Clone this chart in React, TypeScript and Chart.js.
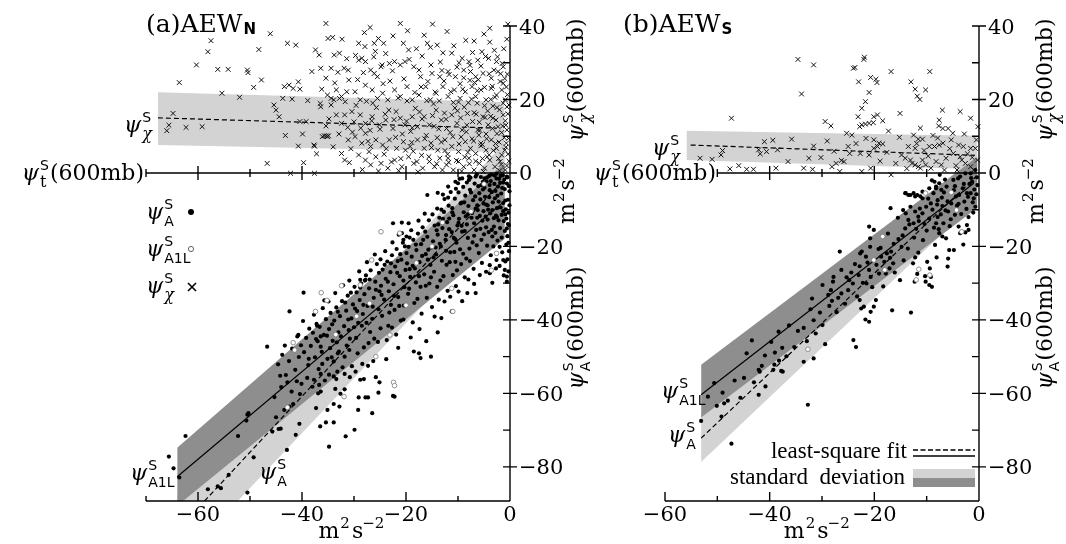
import React, { useEffect, useRef } from 'react';
import { Chart, registerables } from 'chart.js';
Chart.register(...registerables);

type P = [number, number];

// ---------------- Panel (a) AEW_N ----------------
const aChi: P[] = [
  [-63.6,24.6],[-58.1,33.0],[-56.2,28.2],[-54.2,28.2],[-50.5,28.0],[-50.4,27.3],[-49.3,23.3],[-55.4,21.7],[-52.0,20.6],[-64.8,16.2],[-65.6,13.0],[-62.3,12.4],
  [-42.8,35.3],[-41.2,34.8],[-43.7,20.3],[-41.9,20.1],[-45.4,18.5],[-45.0,17.1],[-44.4,15.3],[-43.4,23.5],[-42.5,23.9],[-41.7,23.0],[-40.4,22.8],[-40.7,24.8],
  [-40.4,14.0],[-39.2,14.0],[-40.7,7.3],[-37.6,7.3],[-37.2,5.2],[-39.7,2.8],[-46.7,2.6],[-42.2,-0.1],[-37.6,-0.1],
  [-35.4,40.7],[-31.4,41.4],[-30.1,41.9],[-26.6,43.9],[-21.1,40.7],[-17.3,43.6],[-15.3,42.5],[-14.9,40.5],[-3.9,39.4],[-0.6,43.0],[-0.4,40.5],[-0.6,36.4],
  [-37.4,33.5],[-36.7,32.1],[-35.0,36.6],[-34.1,36.9],[-33.8,32.1],[-32.8,32.6],[-29.1,35.3],[-27.9,34.4],[-26.1,35.3],[-25.3,36.6],[-24.3,35.3],[-22.5,37.3],
  [-20.5,35.3],[-19.5,33.5],[-16.5,37.5],[-15.9,35.3],[-14.0,34.8],[-11.2,32.6],[-9.2,31.2],[-7.9,30.3],[-5.4,33.0],[-4.7,31.7],[-4.1,31.2],[-2.6,30.3],
  [-1.3,28.9],[-6.2,30.7],[-36.4,28.5],[-35.4,25.8],[-34.4,28.5],[-31.9,28.5],[-31.1,28.0],[-29.1,30.7],[-28.5,31.2],[-27.8,30.3],[-26.8,28.0],[-26.1,27.1],
  [-25.5,26.2],[-24.8,28.9],[-23.2,29.8],[-22.2,30.3],[-21.1,29.4],[-20.2,30.3],[-18.5,28.9],[-17.5,28.0],[-17.2,26.2],[-15.2,29.4],[-13.5,26.2],[-11.9,27.6],
  [-10.5,26.2],[-8.9,28.0],[-7.6,27.6],[-6.6,26.2],[-5.2,27.1],[-3.6,25.8],[-2.3,27.6],[-1.3,24.4],
  [-33.4,22.6],[-32.4,20.8],[-31.4,22.1],[-35.1,21.2],[-34.4,20.3],[-29.8,22.1],[-28.8,19.9],[-27.8,23.9],[-26.5,22.6],[-25.5,20.3],[-24.5,21.7],[-23.5,19.9],
  [-22.2,22.6],[-21.1,20.8],[-19.8,23.5],[-18.8,19.9],[-17.5,21.2],[-16.2,23.5],[-15.3,19.9],[-14.2,21.7],[-12.9,23.5],[-11.9,20.8],[-10.7,22.6],[-9.6,20.3],
  [-8.6,22.1],[-7.3,23.5],[-6.6,20.8],[-5.6,22.6],[-4.6,19.9],[-3.6,23.0],[-2.6,21.2],[-1.6,22.6],[-0.9,19.9],[-0.6,18.0],
  [-31.8,15.8],[-30.4,16.7],[-28.8,15.8],[-27.8,13.5],[-26.5,15.3],[-25.1,13.1],[-23.9,14.4],[-22.5,12.1],[-21.1,14.9],[-20.2,13.1],[-18.8,15.3],[-17.8,12.6],
  [-16.5,15.3],[-15.5,13.1],[-14.2,17.1],[-13.2,14.4],[-12.2,12.1],[-11.2,15.8],[-10.2,13.5],[-9.2,11.7],[-8.2,16.2],[-7.2,14.0],[-6.2,11.7],[-5.2,15.3],
  [-4.2,13.1],[-3.3,14.9],[-2.3,12.6],[-1.3,15.8],[-0.6,11.7],
  [-36.1,9.9],[-35.1,9.9],[-31.1,9.0],[-29.8,9.9],[-28.5,8.1],[-26.8,7.2],[-25.8,9.0],[-24.5,7.6],[-23.2,9.0],[-21.8,6.7],[-20.5,8.5],[-19.2,7.2],
  [-17.8,9.0],[-16.5,6.7],[-15.2,8.1],[-13.9,6.2],[-12.5,9.0],[-11.2,7.2],[-9.9,5.8],[-8.6,8.5],[-7.6,6.7],[-6.6,5.3],[-5.6,8.1],[-4.6,6.2],
  [-3.6,9.0],[-2.6,6.7],[-1.6,4.9],[-0.7,8.1],
  [-32.4,5.3],[-31.8,3.5],[-29.1,4.9],[-27.8,3.5],[-26.8,2.2],[-25.8,4.4],[-24.8,2.6],[-23.5,1.3],[-22.2,3.5],[-20.8,1.7],[-19.5,4.4],[-18.5,2.6],
  [-16.8,1.3],[-15.5,3.1],[-14.5,1.7],[-13.5,4.0],[-12.2,2.2],[-10.9,0.8],[-9.9,3.1],[-8.9,1.7],[-7.9,4.0],[-6.9,0.8],[-5.9,2.6],[-4.9,1.3],
  [-3.9,3.5],[-2.9,1.7],[-1.9,3.1],[-0.9,0.8],
  [-37.7,7.6],[-36.5,18.9],[-36.4,18.0],[-34.4,18.5],[-33.9,19.9],[-32.8,20.3],[-33.4,15.8],[-32.4,13.5],[-31.2,12.4],[-35.4,12.8],[-35.7,10.1],[-35.3,10.1],[-34.9,10.1],
  [-19.1,11.3],[-18.2,17.6],[-17.0,4.8],[-16.1,10.2],[-15.8,24.9],[-14.7,18.8],[-14.0,9.6],[-13.1,27.9],[-12.6,16.3],[-12.0,5.1],[-11.5,11.0],[-10.9,19.2],
  [-10.3,3.4],[-9.6,24.3],[-9.4,9.8],[-8.8,17.9],[-8.3,13.0],[-7.8,2.5],[-7.4,20.1],[-7.0,8.7],[-6.5,16.0],[-6.1,25.4],[-5.8,11.6],[-5.3,3.9],
  [-4.9,18.3],[-4.5,9.3],[-4.0,27.0],[-3.7,15.4],[-3.2,6.1],[-2.9,20.6],[-2.5,10.7],[-2.0,17.2],[-1.7,2.3],[-1.4,12.8],[-1.0,25.7],[-0.8,7.0],
  [-0.4,16.1],[-0.2,3.2],[-3.0,33.4],[-6.9,35.9],[-9.8,30.0],[-12.9,32.7],[-2.1,8.4],[-0.9,14.2],[-4.4,4.4],[-5.6,7.4],[-8.1,5.6],[-11.8,2.9],
  [-13.7,12.0],[-15.1,6.9],[-16.9,14.7],[-18.6,5.9],[-19.8,19.6],[-7.7,29.3],[-3.4,23.6],[-1.5,29.8],[-0.5,21.3],[-6.3,19.0],[-10.1,16.9],[-14.4,22.0],
  [-21.9,16.7],[-23.1,25.0],[-24.2,5.1],[-25.7,17.8],[-26.9,11.6],[-27.6,19.5],[-28.7,12.2],[-29.3,25.4],[-30.6,6.6],[-31.7,19.4],[-32.9,10.6],[-33.7,24.5],
  [-34.8,14.7],[-20.7,10.6],[-22.8,3.0],[-24.0,16.0],[-26.2,31.6],[-27.3,8.6],[-28.0,38.2],[-30.0,13.9],
  [-29.6,18.4],[-28.2,27.3],[-27.1,5.8],[-26.4,19.0],[-25.9,33.1],[-25.0,11.9],[-24.4,24.3],[-23.8,6.6],[-23.3,17.1],[-22.6,27.8],[-22.0,9.7],[-21.5,20.4],
  [-21.0,3.9],[-20.4,25.6],[-19.9,14.1],[-19.4,30.9],[-18.9,8.3],[-18.3,21.9],[-17.9,3.1],[-17.4,16.6],[-16.9,31.8],[-16.4,9.3],[-16.0,19.7],[-15.6,4.4],
  [-15.0,27.1],[-14.6,12.7],[-14.1,2.5],[-13.6,19.6],[-13.2,8.4],[-12.7,25.0],[-12.3,14.6],[-11.9,4.0],[-11.4,22.1],[-11.0,9.9],[-10.6,17.7],[-10.2,28.8],
  [-9.8,7.9],[-9.5,15.0],[-9.1,22.8],[-8.7,4.3],[-8.4,11.2],[-8.0,19.1],[-7.7,25.2],[-7.3,9.3],[-6.9,16.4],[-6.6,3.2],[-6.3,22.4],[-5.9,13.8],
  [-5.6,29.1],[-5.3,7.7],[-4.9,23.3],[-4.6,10.6],[-4.3,16.9],[-4.0,4.9],[-3.7,20.0],[-3.4,12.1],[-3.1,28.0],[-2.8,8.0],[-2.5,17.8],[-2.2,3.9],
  [-1.9,24.9],[-1.6,11.0],[-1.3,19.0],[-1.0,6.2],[-0.8,13.0],[-0.5,26.9],[-0.3,9.4],[-0.2,18.5],[-1.2,33.8],[-2.4,31.6],[-3.9,35.6],[-5.0,37.8],
  [-7.2,32.8],[-8.5,36.1],[-10.8,34.6],[-12.1,38.5],[-13.4,30.2],[-18.0,33.8],[-19.7,38.7],[-23.9,32.5],[-26.9,39.6],[-29.7,32.0],[-31.0,25.3],[-32.3,36.4],
  [-33.1,27.4],[-34.0,7.1],[-30.9,2.8],[-28.4,0.9],[-25.3,0.5],[-21.4,0.6],[-17.7,0.3],[-13.0,0.8],[-9.3,0.5],[-5.1,0.4],[-2.0,0.6],[-0.6,2.0],
  [-0.4,5.1],[-1.1,9.6],[-2.7,14.4],[-0.7,23.4],[-1.8,27.0],[-3.3,18.2],[-4.8,15.1],[-6.0,10.3],[-6.8,24.6],[-8.9,25.9],[-9.9,19.3],[-11.7,26.8],
  [-12.5,6.1],[-14.9,15.6],[-15.3,34.2],[-17.1,23.4],[-18.8,12.3],[-20.1,6.2],[-22.3,14.5],[-24.6,29.4],[-26.6,14.2],[-27.8,10.8],[-30.3,11.1],[-31.4,31.1],
  [-36.2,22.8],[-38.1,27.6],[-38.9,19.7],[-39.9,10.6],[-43.2,10.2],[-47.8,25.3],[-60.3,29.4],[-59.2,12.6],[-66.0,11.5],[-57.5,36.0],[-48.3,33.6],[-46.1,37.9]
];

const aA: P[] = [
  [-65.6,-77.2],[-64.7,-80.4],[-63.6,-82.9],[-62.4,-71.6],[-58.1,-86.1],[-55.6,-85.8],[-56.2,-85.3],[-54.1,-82.2],[-52.3,-71.6],[-50.7,-67.4],[-50.5,-65.8],[-50.3,-65.4],
  [-49.3,-77.4],[-50.5,-87.0],[-45.0,-66.5],[-45.7,-70.4],[-44.5,-69.7],[-44.1,-69.6],[-42.9,-75.4],[-44.2,-55.2],[-42.8,-57.0],[-43.4,-64.5],[-42.4,-63.6],[-41.7,-62.9],
  [-41.2,-71.3],[-40.5,-68.3],[-40.1,-57.4],[-37.7,-56.3],[-37.3,-64.0],[-36.9,-60.0],[-36.7,-57.7],[-36.4,-59.5],[-36.4,-54.7],[-36.5,-69.0],[-35.4,-67.9],[-33.9,-67.9],
  [-35.1,-64.5],[-33.9,-62.9],[-32.8,-63.6],[-34.8,-74.5],[-32.6,-60.1],[-31.8,-58.9],[-31.6,-71.7],[-30.8,-55.6],[-28.8,-56.3],[-28.1,-56.1],[-25.8,-55.6],[-25.1,-57.0],
  [-29.2,-64.5],[-29.1,-61.1],[-27.8,-61.1],[-27.3,-61.1],[-29.9,-69.9],[-26.5,-65.4],[-25.3,-59.8],[-22.5,-60.7],[-22.2,-60.9],[-33.9,-55.4],[-33.4,-56.1],[-31.8,-54.7],
  [-46.7,-47.3],[-42.4,-37.7],[-39.7,-32.6],[-37.2,-41.1],[-37.1,-41.6],[-40.7,-44.1],[-40.9,-44.5],[-36.4,-44.5],[-35.2,-44.3],[-36.4,-47.3],[-33.1,-49.1],[-31.8,-50.0],
  [-33.9,-51.3],[-35.7,-34.7],[-28.8,-29.1],[-27.8,-29.1],[-22.5,-13.7],[-20.8,-13.5],[-19.5,-13.7],[-20.8,-16.4],[-20.5,-18.2],[-20.2,-20.0],[-17.2,-50.4],[-15.2,-50.0],
  [-18.5,-48.6],[-17.5,-49.1],[-13.2,-39.5],[-14.5,-39.1],[-11.2,-37.7],[-9.9,-32.3],[-8.2,-32.7],[-6.6,-32.7],[-3.9,-27.3],[-2.6,-23.7],[-1.3,-23.7],[-1.0,-26.4],
  [-0.6,-28.2],[-0.6,-29.6],
  [-44.6,-52.1],[-43.8,-49.5],[-43.1,-55.0],[-42.5,-51.2],[-41.9,-47.8],[-41.3,-53.6],[-40.6,-50.1],[-40.2,-46.9],[-44.0,-58.3],[-42.0,-59.5],[-41.0,-56.7],[-40.4,-60.2],
  [-45.3,-61.0],[-43.3,-47.0],
  [-39.6,-48.8],[-39.2,-44.9],[-38.8,-52.3],[-38.3,-47.1],[-37.9,-43.5],[-37.5,-50.2],[-37.0,-45.8],[-36.6,-41.9],[-36.2,-48.7],[-35.8,-44.1],[-35.4,-39.8],[-35.1,-50.6],
  [-39.0,-55.8],[-38.0,-58.2],[-36.8,-53.4],[-35.6,-56.5],[-39.8,-40.3],[-37.7,-38.6],[-36.0,-36.8],[-38.6,-42.4],
  [-34.8,-42.5],[-34.5,-38.1],[-34.1,-45.7],[-33.8,-40.2],[-33.4,-36.6],[-33.0,-43.4],[-32.7,-39.0],[-32.3,-34.9],[-31.9,-41.7],[-31.5,-37.5],[-31.2,-33.4],[-30.8,-45.1],
  [-30.5,-39.6],[-30.2,-35.8],[-34.3,-50.2],[-32.9,-48.6],[-31.4,-47.0],[-30.4,-52.6],[-33.6,-32.7],[-32.1,-30.6],[-30.9,-29.3],[-34.9,-35.0],[-33.2,-54.1],[-31.0,-42.8],
  [-29.8,-36.9],[-29.5,-32.5],[-29.2,-40.8],[-28.9,-34.6],[-28.6,-30.1],[-28.3,-38.4],[-28.0,-33.0],[-27.7,-27.9],[-27.4,-36.2],[-27.1,-31.4],[-26.8,-26.5],[-26.5,-39.7],
  [-26.2,-34.0],[-25.9,-29.6],[-25.6,-24.8],[-25.3,-37.1],[-29.6,-44.9],[-28.1,-47.5],[-26.9,-43.3],[-25.4,-46.0],[-29.0,-26.8],[-27.5,-24.3],[-26.0,-22.2],[-28.4,-52.0],
  [-26.3,-51.2],[-25.1,-32.2],[-27.9,-29.3],[-29.9,-31.0],
  [-24.8,-30.7],[-24.5,-26.3],[-24.2,-34.5],[-23.9,-28.8],[-23.6,-24.1],[-23.3,-32.2],[-23.0,-27.0],[-22.7,-22.4],[-22.4,-30.3],[-22.1,-25.5],[-21.8,-20.7],[-21.5,-33.8],
  [-21.2,-28.1],[-20.9,-23.6],[-20.6,-19.0],[-20.3,-31.1],[-24.6,-38.9],[-23.4,-41.6],[-22.2,-37.3],[-21.0,-40.2],[-24.0,-21.3],[-22.6,-18.9],[-21.4,-16.8],[-20.1,-26.4],
  [-23.7,-45.5],[-21.9,-44.0],[-20.4,-36.1],[-24.9,-23.5],[-22.9,-35.9],[-21.6,-24.0],
  [-19.8,-24.6],[-19.5,-20.1],[-19.2,-28.3],[-18.9,-22.8],[-18.6,-18.2],[-18.3,-26.0],[-18.0,-21.0],[-17.7,-16.5],[-17.4,-24.3],[-17.1,-19.4],[-16.8,-14.8],[-16.5,-27.6],
  [-16.2,-22.1],[-15.9,-17.4],[-15.6,-12.9],[-15.3,-25.0],[-19.6,-32.9],[-18.4,-35.4],[-17.2,-31.0],[-16.0,-34.0],[-19.0,-15.6],[-17.6,-13.0],[-16.4,-11.1],[-15.1,-20.3],
  [-18.7,-40.7],[-17.0,-38.3],[-15.5,-30.1],[-19.9,-17.3],[-18.1,-29.8],[-16.7,-18.2],[-15.8,-23.6],[-19.3,-26.2],
  [-14.8,-18.6],[-14.5,-14.3],[-14.2,-22.2],[-13.9,-16.8],[-13.6,-12.2],[-13.3,-20.0],[-13.0,-15.0],[-12.7,-10.6],[-12.4,-18.2],[-12.1,-13.4],[-11.8,-8.9],[-11.5,-21.6],
  [-11.2,-16.1],[-10.9,-11.5],[-10.6,-7.0],[-10.3,-19.0],[-14.6,-26.9],[-13.4,-29.3],[-12.2,-25.0],[-11.0,-27.8],[-14.0,-9.7],[-12.6,-7.1],[-11.4,-5.2],[-10.1,-14.3],
  [-13.7,-34.5],[-12.0,-32.1],[-10.5,-24.2],[-14.9,-11.3],[-13.1,-23.9],[-11.7,-12.4],[-10.8,-17.7],[-14.3,-20.3],[-12.9,-5.9],[-11.1,-9.6],[-10.4,-4.3],[-13.8,-14.0],
  [-12.3,-16.9],[-10.7,-21.5],
  [-9.8,-12.5],[-9.5,-8.3],[-9.2,-16.0],[-8.9,-10.7],[-8.6,-6.2],[-8.3,-14.0],[-8.0,-9.0],[-7.7,-4.6],[-7.4,-12.2],[-7.1,-7.4],[-6.8,-2.9],[-6.5,-15.5],
  [-6.2,-10.1],[-5.9,-5.5],[-5.6,-1.1],[-5.3,-13.0],[-9.6,-20.8],[-8.4,-23.3],[-7.2,-18.9],[-6.0,-21.8],[-9.0,-3.8],[-7.6,-1.3],[-6.4,-0.4],[-5.1,-8.3],
  [-8.7,-28.4],[-7.0,-26.1],[-5.5,-18.2],[-9.9,-5.3],[-8.1,-17.7],[-6.7,-6.4],[-5.8,-11.7],[-9.3,-14.4],[-7.9,-0.9],[-6.1,-3.6],[-5.4,-24.5],[-8.8,-8.0],
  [-7.3,-10.9],[-5.7,-15.2],[-9.7,-1.6],[-8.5,-11.8],[-6.9,-13.7],[-5.2,-4.5],[-9.4,-24.8],[-7.8,-20.6],[-6.3,-8.8],[-5.0,-16.7],
  [-4.8,-6.5],[-4.5,-2.3],[-4.2,-10.0],[-3.9,-4.7],[-3.6,-0.4],[-3.3,-8.0],[-3.0,-3.0],[-2.7,-11.6],[-2.4,-6.2],[-2.1,-1.6],[-1.8,-9.4],[-1.5,-4.1],
  [-1.2,-13.1],[-0.9,-7.5],[-0.6,-2.9],[-0.3,-10.8],[-4.6,-14.8],[-3.4,-17.3],[-2.2,-12.9],[-1.0,-15.8],[-4.0,-0.8],[-2.6,-0.2],[-1.4,-0.6],[-0.1,-5.0],
  [-3.7,-22.4],[-2.0,-20.1],[-0.5,-17.2],[-4.9,-1.5],[-3.1,-12.3],[-1.7,-5.6],[-0.8,-9.9],[-4.3,-8.8],[-2.9,-6.9],[-1.1,-1.8],[-0.4,-13.9],[-3.8,-11.0],
  [-2.3,-3.7],[-0.7,-19.5],[-4.4,-19.8],[-1.9,-15.0],[-0.2,-21.3],[-2.8,-16.3],[-3.5,-5.2],[-1.3,-8.2],[-0.9,-24.1],[-0.3,-26.8],[-0.5,-1.2],[-2.5,-9.6],
  [-4.7,-11.9],[-1.6,-11.4],
  [-15.9,-6.0],[-13.9,-5.4],[-11.9,-3.7],[-10.5,-2.4],[-9.2,-1.5],[-7.9,-1.9],[-6.6,-1.0],[-5.2,-2.4],[-3.9,-3.3],[-2.6,-1.5],[-1.3,-2.6],[-0.6,-1.0],
  [-34.2,-41.2],[-33.1,-37.8],[-32.5,-44.5],[-31.7,-35.3],[-31.1,-39.9],[-30.6,-32.6],[-30.0,-42.0],[-29.4,-37.6],[-28.8,-31.2],[-28.2,-35.9],[-27.6,-40.8],[-27.0,-29.0],
  [-26.4,-36.4],[-25.8,-31.8],[-25.2,-27.2],[-34.6,-47.7],[-33.3,-46.1],[-29.3,-49.1],[-27.2,-46.3],
  [-24.7,-33.2],[-24.1,-25.0],[-23.5,-29.6],[-22.9,-24.6],[-22.3,-33.5],[-21.7,-27.2],[-21.1,-22.1],[-20.5,-29.3],[-19.9,-21.8],[-19.3,-17.6],[-18.7,-25.3],[-18.1,-19.5],
  [-17.5,-28.1],[-16.9,-22.6],[-16.3,-16.0],[-15.7,-20.9],[-15.2,-28.4],[-23.2,-38.0],[-21.3,-36.2],[-19.4,-31.5],[-17.8,-34.3],[-16.2,-30.7],
  [-14.7,-23.0],[-14.1,-15.6],[-13.5,-19.3],[-12.9,-12.5],[-12.3,-21.2],[-11.7,-15.3],[-11.1,-10.7],[-10.5,-18.1],[-9.9,-13.6],[-9.3,-8.1],[-8.7,-15.8],[-8.1,-11.3],
  [-7.5,-5.3],[-6.9,-17.1],[-6.3,-12.2],[-5.7,-7.2],[-5.1,-10.4],[-14.0,-31.0],[-12.8,-28.1],[-11.6,-24.3],[-10.2,-26.5],[-9.0,-22.0],[-7.7,-24.0],[-6.4,-19.7],
  [-13.2,-10.0],[-11.9,-6.7],[-10.0,-2.8],[-8.3,-2.6],[-6.6,-9.7],[-5.5,-3.3],
  [-4.9,-4.0],[-4.6,-8.6],[-4.3,-12.7],[-4.0,-6.6],[-3.7,-2.2],[-3.4,-10.1],[-3.1,-14.6],[-2.8,-4.9],[-2.5,-12.0],[-2.2,-7.8],[-1.9,-2.7],[-1.6,-17.6],
  [-1.3,-10.4],[-1.0,-4.4],[-0.7,-12.4],[-0.4,-7.3],[-0.2,-3.6],[-4.1,-16.1],[-3.2,-20.0],[-2.4,-18.4],[-1.5,-21.6],[-0.6,-15.1],[-3.9,-25.1],[-2.7,-26.0],
  [-1.8,-0.8],[-0.9,-11.3],[-0.3,-19.0],[-4.4,-1.2],[-3.0,-0.7],[-0.1,-8.8],[-0.5,-23.5],[-1.2,-27.9],[-0.2,-14.2],[-2.0,-25.3],[-3.5,-15.5],
  [-38.7,-50.6],[-37.3,-45.2],[-36.1,-52.0],[-34.8,-54.9],[-33.6,-58.8],[-32.2,-52.9],[-30.9,-48.2],[-29.7,-54.1],[-28.5,-41.6],[-27.3,-52.5],[-26.1,-45.1],[-24.9,-42.3],
  [-23.8,-50.7],[-22.7,-42.1],[-21.5,-47.6],[-20.5,-39.9],[-19.1,-44.8],[-17.4,-42.5],[-16.1,-45.8],[-15.0,-36.5],[-13.9,-43.4],[-12.6,-35.0],[-11.5,-33.7],[-10.4,-30.8],
  [-9.2,-34.9],[-8.0,-29.0],[-6.9,-30.2],[-5.8,-27.8],[-4.6,-26.9],[-3.4,-29.9]
];

const aA1L: P[] = [
  [-22.4,-57.0],[-22.2,-57.9],[-31.9,-60.9],[-42.8,-63.8],[-24.8,-16.0],[-21.2,-16.4],[-26.6,-23.7],[-32.4,-30.7],[-36.3,-32.6],[-35.2,-34.7],
  [-37.4,-37.7],[-41.7,-46.2],[-41.4,-48.2],[-28.8,-30.5],[-11.2,-31.4],[-11.0,-37.7],[-3.6,-26.5],[-2.6,-21.9],[-25.8,-50.0],[-23.1,-44.1],
  [-18.0,-24.5],[-15.0,-20.0],[-7.5,-10.5],[-5.0,-3.0],[-29.5,-39.0],[-33.5,-44.0],[-20.0,-36.0],[-27.0,-35.5],[-13.0,-13.5]
];

const aChiFit: P[] = [[-67.7, 15.0], [-2.6, 12.2]];
const aChiUpper: P[] = [[-67.7, 22.0], [-1.1, 19.3]];
const aChiLower: P[] = [[-67.7, 7.6], [-1.1, 5.7]];
const aA1LFit: P[] = [[-64, -82.7], [-1, -7.6]];
const aA1LUpper: P[] = [[-64, -74.8], [-1, 2.7]];
const aA1LLower: P[] = [[-64, -90.6], [-1, -17.9]];
const aAFit: P[] = [[-64, -97.3], [-1, -1.5]];
const aAUpper: P[] = [[-64, -87.5], [-1, 8.3]];
const aALower: P[] = [[-64, -106.7], [-1, -12.5]];

// ---------------- Panel (b) AEW_S ----------------
const bChi: P[] = [
  [-47.3,14.9],[-33.9,21.5],[-34.6,30.9],[-31.6,29.4],[-24.0,28.5],[-23.7,28.7],[-22.0,30.9],[-21.9,31.5],[-23.0,24.8],[-20.7,26.0],[-19.5,24.6],[-19.7,25.5],
  [-21.0,21.9],[-21.7,19.4],[-22.4,17.6],[-16.8,27.6],[-13.0,24.8],[-12.2,22.8],[-11.8,20.9],[-11.3,20.0],[-10.2,22.6],[-9.4,27.6],[-15.1,16.2],[-7.0,17.1],
  [-3.6,16.7],[-1.6,14.9],[-0.2,12.6],[-29.4,14.0],[-28.3,12.8],[-25.3,10.8],[-24.3,10.3],[-22.8,12.6],[-22.4,13.1],[-21.7,13.3],[-21.0,13.5],[-20.2,13.7],
  [-18.4,14.2],[-7.6,14.4],[-7.7,12.8],[-6.9,12.1],[-5.9,12.1],[-5.3,9.0],[-3.9,7.6],[-3.0,7.2],[-1.6,6.7],[-12.5,10.3],[-11.6,9.2],[-10.8,9.2],
  [-41.0,8.5],[-39.4,8.9],[-35.8,9.2],[-31.6,7.3],[-42.1,6.3],[-41.8,5.2],[-40.6,5.8],[-38.5,6.3],[-53.3,4.0],[-51.0,3.7],[-49.3,4.9],[-49.0,6.1],
  [-44.4,1.0],[-43.1,1.0],[-38.8,1.3],[-33.5,1.3],[-31.8,1.0],[-28.1,1.7],[-27.3,2.6],[-26.3,3.4],[-25.8,3.1],[-26.6,0.4],[-22.4,0.4],[-20.7,1.3],
  [-16.8,-0.5],[-24.7,5.3],[-22.7,5.3],[-21.0,4.9],[-20.1,6.7],[-19.4,7.2],[-20.1,9.0],[-19.1,8.1],[-18.4,7.9],[-14.8,4.9],[-14.1,4.0],[-13.1,3.5],
  [-12.8,2.6],[-12.2,2.2],[-11.6,1.7],[-11.2,1.3],[-13.5,7.2],[-12.2,6.7],[-10.5,6.1],[-9.5,7.2],[-8.5,7.2],[-7.6,7.6],[-6.9,8.1],[-4.9,5.3],
  [-3.6,4.4],[-3.3,3.5],[-2.6,2.6],[-1.6,1.7],[-1.0,0.8],[-0.3,3.5],[-0.7,6.7],[-8.2,3.1],[-7.2,2.2],[-6.6,0.8],[-9.2,1.3],[-10.2,2.2],
  [-10.8,3.5],[-20.1,15.3],[-19.4,15.8],[-11.2,12.2],[-2.2,5.2],[-4.4,2.0],[-5.6,6.6],[-8.8,10.2],[-15.9,2.6],[-17.6,5.6],[-23.5,8.0],[-30.2,4.2],
  [-0.5,9.0],[-1.3,4.2],[-2.8,10.6],[-4.2,0.8],[-5.0,10.8],[-6.3,4.0],[-7.9,9.5],[-9.7,4.6],[-11.9,8.0],[-13.8,1.2],[-15.2,9.7],[-17.3,11.4],
  [-18.9,3.2],[-21.6,9.4],[-23.1,15.3],[-25.0,7.2],[-27.7,5.9],[-29.0,8.7],[-32.5,4.0],[-36.5,3.1],[-45.9,2.0],[-47.6,1.1]
];

const bA: P[] = [
  [-53.1,-67.5],[-49.0,-59.8],[-48.7,-62.7],[-49.2,-66.3],[-50.6,-57.2],[-47.3,-73.7],[-42.1,-60.4],[-40.8,-58.1],[-42.1,-53.6],[-39.3,-53.6],[-37.8,-53.9],[-32.7,-63.1],
  [-43.4,-45.6],[-44.4,-49.1],[-41.9,-54.1],[-40.9,-49.7],[-39.0,-48.9],[-38.3,-43.2],[-37.5,-54.1],[-39.1,-52.2],
  [-33.5,-51.4],[-31.6,-50.5],[-29.4,-46.6],[-33.5,-42.2],[-31.6,-40.1],[-31.9,-34.2],[-29.9,-30.5],[-28.1,-34.8],[-28.3,-31.9],[-26.6,-21.4],[-26.3,-26.4],[-26.3,-32.8],
  [-27.9,-29.6],[-27.8,-28.3],[-24.8,-29.2],[-25.0,-31.9],[-24.1,-30.1],[-22.7,-21.9],[-22.4,-21.4],[-22.8,-25.4],[-23.0,-27.8],[-21.0,-14.6],[-20.1,-15.5],[-20.8,-17.8],
  [-20.8,-20.1],[-21.0,-26.4],[-20.7,-28.3],[-21.5,-30.1],[-22.8,-34.6],[-22.0,-36.4],[-22.5,-36.9],[-20.7,-37.8],[-20.1,-36.4],[-19.7,-34.6],[-21.7,-39.9],[-21.0,-40.5],
  [-24.0,-45.5],[-23.5,-47.4],[-16.6,-37.4],[-13.0,-38.0],[-19.1,-27.4],[-18.1,-24.2],[-18.7,-22.8],[-17.6,-21.9],[-17.1,-26.0],[-16.4,-24.6],[-17.8,-27.4],[-16.8,-21.4],
  [-15.1,-29.2],[-14.8,-20.1],[-14.5,-10.1],[-16.9,-9.6],[-14.1,-15.1],[-14.0,-11.0],[-13.5,-12.8],[-13.1,-9.2],[-12.2,-10.5],[-12.5,-13.7],[-11.6,-11.9],[-10.8,-11.0],
  [-10.1,-9.2],[-9.5,-12.4],[-8.7,-5.5],[-8.2,-4.2],[-7.2,-4.6],[-7.9,-7.4],[-7.0,-9.0],[-5.9,-10.5],[-5.3,-8.3],[-4.4,-6.4],[-3.9,-8.4],[-2.8,-7.8],
  [-2.3,-5.5],[-1.6,-5.5],[-1.0,-6.9],[-0.7,-9.2],[-0.3,-3.3],[-1.3,-2.4],[-7.6,-16.4],[-8.4,-19.6],[-5.7,-21.0],[-4.8,-21.0],[-5.9,-23.3],[-9.4,-26.0],
  [-9.9,-24.2],[-11.6,-21.7],[-12.2,-23.0],[-12.6,-24.6],[-10.2,-29.6],[-9.5,-30.5],[-9.0,-31.0],[-12.3,-29.6],[-9.2,-28.3],[-11.8,-27.5],[-10.3,-28.1],[-2.3,-14.2],
  [-2.0,-15.5],[-4.6,-11.4],[-3.9,-14.6],[-3.6,-16.4],[-2.6,-16.2],[-6.8,-13.7],[-8.2,-13.7],[-12.5,-5.5],[-11.8,-6.0],[-11.2,-6.4],[-10.8,-6.9],[-13.5,-6.0],
  [-14.0,-5.5],[-7.7,-15.3],[-6.3,-17.8],[-7.0,-17.3],
  [-14.1,-5.5],[-13.1,-6.0],[-12.2,-6.4],[-10.8,-5.1],[-9.5,-4.2],[-8.2,-3.7],[-7.6,-2.8],[-6.2,-3.7],[-4.9,-1.9],[-3.6,-1.0],[-2.6,-0.1],[-1.6,-0.1],
  [-0.7,0.8],[-8.5,-2.4],[-7.5,-0.5],
  [-0.4,-1.2],[-0.9,-4.5],[-1.8,-3.0],[-2.4,-9.8],[-3.1,-4.2],[-3.8,-6.0],[-4.6,-3.6],[-5.4,-12.6],[-6.0,-7.7],[-6.7,-5.3],[-7.3,-11.3],[-8.0,-8.6],
  [-8.9,-10.0],[-9.7,-7.0],[-10.4,-13.9],[-11.3,-9.7],[-12.0,-15.2],[-13.3,-14.0],[-14.6,-17.0],[-15.5,-12.2],[-16.3,-19.3],[-17.4,-16.5],[-18.8,-20.4],[-19.6,-25.0],
  [-21.6,-22.8],[-23.7,-24.8],[-25.3,-28.4],[-26.9,-34.0],[-28.8,-33.2],[-30.4,-38.0],[-32.2,-37.1],[-34.6,-43.0],[-36.3,-41.5],[-37.6,-47.6],[-39.7,-46.0],[-41.5,-52.5],
  [-44.9,-55.8],[-46.7,-56.5],[-48.0,-62.0],[-2.0,-12.0],[-1.2,-8.0],[-4.0,-1.5],[-6.5,-1.8],[-9.0,-2.0],
  [-0.5,-5.8],[-1.1,-10.8],[-1.5,-1.4],[-2.1,-6.5],[-2.9,-3.0],[-3.4,-11.2],[-4.2,-8.9],[-4.8,-4.7],[-5.6,-14.5],[-6.4,-10.2],[-7.1,-6.7],[-7.9,-12.0],
  [-8.6,-14.9],[-9.2,-8.3],[-10.0,-15.7],[-10.7,-18.3],[-11.5,-13.1],[-12.4,-17.6],[-13.6,-20.6],[-14.4,-23.8],[-15.4,-18.0],[-16.1,-27.1],[-17.0,-23.1],[-18.3,-30.9],
  [-19.2,-20.7],[-20.4,-31.1],[-21.3,-24.4],[-22.2,-29.9],[-23.3,-33.6],[-24.4,-27.1],[-25.6,-35.6],[-27.2,-37.9],[-28.6,-36.2],[-29.9,-41.4],[-31.2,-43.7],[-32.9,-45.8],
  [-35.3,-47.4],[-36.8,-49.9],[-38.2,-51.1],[-43.0,-57.0],[-45.6,-61.2],[-50.1,-63.4],[-51.8,-60.9],[-3.0,-19.5],[-6.0,-25.5],[-8.1,-23.0]
];

const bA1L: P[] = [
  [-18.4,-17.3],[-20.1,-23.7],[-18.0,-26.4],[-10.2,-5.5],[-4.3,-10.1],[-3.3,-16.0],[-11.5,-26.2],[-12.0,-29.1],[-9.4,-27.8],[-32.7,-48.0],[-5.3,-5.3]
];

const bChiFit: P[] = [[-55.1, 7.6], [-0.8, 4.8]];
const bChiUpper: P[] = [[-55.9, 11.5], [-0.4, 10.1]];
const bChiLower: P[] = [[-55.9, 3.5], [-0.4, 1.0]];
const bA1LFit: P[] = [[-53.1, -60.4], [-1, -2.8]];
const bA1LUpper: P[] = [[-53.1, -52.2], [-0.3, 4.4]];
const bA1LLower: P[] = [[-53.1, -66.6], [-0.3, -9.5]];
const bAFit: P[] = [[-53.1, -72.2], [-0.5, -0.9]];
const bAUpper: P[] = [[-53.1, -65.7], [-0.3, 6.0]];
const bALower: P[] = [[-53.1, -78.7], [-0.3, -7.5]];

// axis ticks
const yLabelTicks = [40, 20, 0, -20, -40, -60, -80];
const xLabelTicks = [-60, -40, -20, 0];
const Y_MIN = -89.3;
const Y_MAX = 40;

// ---------------- drawing helpers ----------------
const SERIF = '"DejaVu Serif", serif';
const SANS = '"DejaVu Sans", sans-serif';
const PSI = `italic 22px ${SERIF}`;
const SUPF = `14px ${SANS}`;
const F22 = `22px ${SERIF}`;
const LIGHT = '#d3d3d3';
const DARK = '#8e8e8e';

type Seg =
  | { t: string; f: string; dy?: number; dx?: number }
  | { sup: string; sub: string; f1: string; f2: string; up: number; dn: number; dx?: number };

function segW(ctx: CanvasRenderingContext2D, s: Seg): number {
  if ('t' in s) {
    ctx.font = s.f;
    return ctx.measureText(s.t).width + (s.dx || 0);
  }
  ctx.font = s.f1;
  const a = ctx.measureText(s.sup).width;
  ctx.font = s.f2;
  const b = ctx.measureText(s.sub).width;
  return Math.max(a, b) + (s.dx || 0);
}

function drawRich(ctx: CanvasRenderingContext2D, segs: Seg[], x: number, y: number, align: 'left' | 'center' | 'right' = 'left') {
  const total = segs.reduce((w, s) => w + segW(ctx, s), 0);
  let cx = align === 'center' ? x - total / 2 : align === 'right' ? x - total : x;
  ctx.textAlign = 'left';
  ctx.textBaseline = 'alphabetic';
  for (const s of segs) {
    const w = segW(ctx, s);
    const dx = s.dx || 0;
    if ('t' in s) {
      ctx.font = s.f;
      ctx.fillText(s.t, cx + dx, y + (s.dy || 0));
    } else {
      ctx.font = s.f1;
      ctx.fillText(s.sup, cx + dx, y - s.up);
      ctx.font = s.f2;
      ctx.fillText(s.sub, cx + dx, y + s.dn);
    }
    cx += w;
  }
  return total;
}

const psi = (sub: string, f2: string = SUPF): Seg[] => [
  { t: 'ψ', f: PSI },
  { sup: 'S', sub, f1: SUPF, f2, up: 10, dn: 7, dx: 1 },
];
const CHI_F = `italic 16px ${SERIF}`;
const T_F = `16px ${SERIF}`;
const mb: Seg = { t: '(600mb)', f: F22, dx: 1 };
const unitSegs: Seg[] = [
  { t: 'm', f: F22 },
  { t: '2', f: `15px ${SERIF}`, dy: -10, dx: 1 },
  { t: 's', f: F22, dx: 2 },
  { t: '−2', f: `15px ${SERIF}`, dy: -10, dx: -1 },
];

const fmt = (v: number) => (v < 0 ? '−' + Math.abs(v) : String(v));

type PanelCfg = {
  xStart: number;
  zeroStart: number;
  unitAt: number;
  draw: (ctx: CanvasRenderingContext2D) => void;
};

function axesPlugin(cfg: PanelCfg) {
  return {
    id: 'panelAxes',
    afterDraw(chart: any) {
      const ctx: CanvasRenderingContext2D = chart.ctx;
      const xs = chart.scales.x;
      const ys = chart.scales.y;
      const X = (v: number) => xs.getPixelForValue(v);
      const Y = (v: number) => ys.getPixelForValue(v);
      ctx.save();
      ctx.strokeStyle = '#000';
      ctx.fillStyle = '#000';
      ctx.lineWidth = 1.4;
      ctx.setLineDash([]);
      const ax = X(0);
      const by = Y(Y_MIN);
      ctx.beginPath();
      ctx.moveTo(ax, Y(Y_MAX));
      ctx.lineTo(ax, by);
      for (let v = 40; v >= -80; v -= 10) {
        const yy = Y(v);
        if (v % 20 === 0) {
          ctx.moveTo(ax - 7, yy);
          ctx.lineTo(ax + 7, yy);
        } else {
          ctx.moveTo(ax - 7, yy);
          ctx.lineTo(ax, yy);
        }
      }
      ctx.moveTo(X(cfg.xStart), by);
      ctx.lineTo(ax, by);
      for (let v = cfg.xStart; v <= 0; v += 10) {
        const xx = X(v);
        ctx.moveTo(xx, by);
        ctx.lineTo(xx, by - (v % 20 === 0 ? 9 : 5));
      }
      const zy = Y(0);
      ctx.moveTo(X(cfg.zeroStart), zy);
      ctx.lineTo(ax, zy);
      for (let v = cfg.zeroStart; v < 0; v += 10) {
        const xx = X(v);
        const len = v % 20 === 0 ? 7 : 4;
        ctx.moveTo(xx, zy - len);
        ctx.lineTo(xx, zy + len);
      }
      ctx.stroke();
      ctx.font = `21px ${SERIF}`;
      ctx.textBaseline = 'alphabetic';
      ctx.textAlign = 'left';
      for (const v of yLabelTicks) ctx.fillText(fmt(v), ax + 9, Y(v) + 7.5);
      ctx.textAlign = 'center';
      for (const v of xLabelTicks) ctx.fillText(fmt(v), X(v), by + 20);
      drawRich(ctx, unitSegs, X(cfg.unitAt), by + 37, 'center');
      const rot = (segs: Seg[], cx: number, cy: number, base: number) => {
        ctx.save();
        ctx.translate(cx, cy);
        ctx.rotate(-Math.PI / 2);
        drawRich(ctx, segs, 0, base, 'center');
        ctx.restore();
      };
      rot([...psi('χ', CHI_F), mb], ax + 64, 80, 9);
      rot(unitSegs, ax + 56, 191, 8);
      rot([...psi('A'), mb], ax + 64, 328, 9);
      cfg.draw(ctx);
      ctx.restore();
    },
  };
}

const toXY = (a: P[]) => a.map(([x, y]) => ({ x, y }));

function bandSets(upper: P[], lower: P[], color: string) {
  return [
    { type: 'line', data: toXY(upper), fill: '+1', backgroundColor: color, borderColor: 'transparent', borderWidth: 0, pointRadius: 0, showLine: true },
    { type: 'line', data: toXY(lower), fill: false, backgroundColor: color, borderColor: 'transparent', borderWidth: 0, pointRadius: 0, showLine: true },
  ];
}
function fitSet(pts: P[], dashed: boolean) {
  return { type: 'line', data: toXY(pts), borderColor: '#000', borderWidth: 1.2, borderDash: dashed ? [5, 3] : [], pointRadius: 0, fill: false, showLine: true };
}
function pointSets(chi: P[], a: P[], a1l: P[]) {
  return [
    { data: toXY(a1l), pointStyle: 'circle', pointRadius: 2.3, backgroundColor: '#fff', borderColor: '#7a7a7a', borderWidth: 0.8, clip: false },
    { data: toXY(a), pointStyle: 'circle', pointRadius: 2.1, backgroundColor: '#000', borderColor: '#000', borderWidth: 0, clip: false },
    { data: toXY(chi), pointStyle: 'crossRot', pointRadius: 3.4, backgroundColor: '#000', borderColor: '#111', borderWidth: 1, clip: false },
  ];
}

function makeConfig(opts: {
  xMin: number;
  pad: { left: number; right: number; top: number; bottom: number };
  chi: P[]; a: P[]; a1l: P[];
  chiFit: P[]; chiU: P[]; chiL: P[];
  a1lFit: P[]; a1lU: P[]; a1lL: P[];
  aFit: P[]; aU: P[]; aL: P[];
  cfg: PanelCfg;
}): any {
  return {
    type: 'scatter',
    data: {
      datasets: [
        ...pointSets(opts.chi, opts.a, opts.a1l),
        fitSet(opts.a1lFit, false),
        fitSet(opts.aFit, true),
        fitSet(opts.chiFit, true),
        ...bandSets(opts.a1lU, opts.a1lL, DARK),
        ...bandSets(opts.aU, opts.aL, LIGHT),
        ...bandSets(opts.chiU, opts.chiL, LIGHT),
      ],
    },
    options: {
      responsive: false,
      animation: false,
      events: [],
      devicePixelRatio: 1,
      layout: { padding: opts.pad },
      plugins: { legend: { display: false }, tooltip: { enabled: false }, title: { display: false } },
      scales: {
        x: { type: 'linear', min: opts.xMin, max: 0, display: false },
        y: { type: 'linear', min: Y_MIN, max: Y_MAX, display: false },
      },
    },
    plugins: [axesPlugin(opts.cfg)],
  };
}

const W = 1066;
const H = 544;

const cfgA: PanelCfg = {
  xStart: -70,
  zeroStart: -70,
  unitAt: -30.5,
  draw: (ctx) => {
    drawRich(ctx, [{ t: '(a)AEW', f: `25px ${SERIF}` }, { t: 'N', f: `bold 15px ${SANS}`, dy: 2, dx: 1 }], 146, 32);
    drawRich(ctx, psi('χ', CHI_F), 124, 132);
    drawRich(ctx, [...psi('t', T_F), mb], 144, 180, 'right');
    drawRich(ctx, psi('A1L'), 130, 480);
    drawRich(ctx, psi('A'), 259, 479);
    drawRich(ctx, psi('A'), 146, 219);
    drawRich(ctx, psi('A1L'), 146, 256);
    drawRich(ctx, psi('χ', CHI_F), 146, 293);
    ctx.beginPath();
    ctx.arc(191, 212, 3, 0, Math.PI * 2);
    ctx.fill();
    ctx.beginPath();
    ctx.lineWidth = 0.9;
    ctx.strokeStyle = '#555';
    ctx.arc(191, 249, 2.6, 0, Math.PI * 2);
    ctx.stroke();
    ctx.beginPath();
    ctx.strokeStyle = '#000';
    ctx.lineWidth = 1.6;
    ctx.moveTo(188, 283); ctx.lineTo(196, 291);
    ctx.moveTo(196, 283); ctx.lineTo(188, 291);
    ctx.stroke();
  },
};

const cfgB: PanelCfg = {
  xStart: -60,
  zeroStart: -50,
  unitAt: -31,
  draw: (ctx) => {
    drawRich(ctx, [{ t: '(b)AEW', f: `25px ${SERIF}` }, { t: 'S', f: `bold 15px ${SANS}`, dy: 2, dx: 1 }], 623, 32);
    drawRich(ctx, psi('χ', CHI_F), 652, 155);
    drawRich(ctx, [...psi('t', T_F), mb], 716, 180, 'right');
    drawRich(ctx, psi('A1L'), 661, 398);
    drawRich(ctx, psi('A'), 668, 442);
    ctx.font = `23px "Liberation Serif", serif`;
    ctx.textAlign = 'right';
    ctx.textBaseline = 'alphabetic';
    ctx.fillText('least-square fit', 907, 458);
    ctx.fillText('standard  deviation', 905, 484);
    ctx.strokeStyle = '#000';
    ctx.lineWidth = 1.3;
    ctx.beginPath();
    ctx.setLineDash([5, 2.5]);
    ctx.moveTo(913, 450); ctx.lineTo(975, 450);
    ctx.stroke();
    ctx.beginPath();
    ctx.setLineDash([]);
    ctx.moveTo(913, 456); ctx.lineTo(975, 456);
    ctx.stroke();
    ctx.fillStyle = LIGHT;
    ctx.fillRect(913, 469, 62, 9);
    ctx.fillStyle = DARK;
    ctx.fillRect(913, 478, 62, 9);
    ctx.fillStyle = '#000';
  },
};

export default function App() {
  const refA = useRef<HTMLCanvasElement>(null);
  const refB = useRef<HTMLCanvasElement>(null);
  useEffect(() => {
    const ca = new Chart(refA.current as HTMLCanvasElement, makeConfig({
      xMin: -70,
      pad: { left: 146, right: W - 510, top: 26, bottom: H - 501 },
      chi: aChi, a: aA, a1l: aA1L,
      chiFit: aChiFit, chiU: aChiUpper, chiL: aChiLower,
      a1lFit: aA1LFit, a1lU: aA1LUpper, a1lL: aA1LLower,
      aFit: aAFit, aU: aAUpper, aL: aALower,
      cfg: cfgA,
    }));
    const cb = new Chart(refB.current as HTMLCanvasElement, makeConfig({
      xMin: -60,
      pad: { left: 665, right: W - 979, top: 26, bottom: H - 501 },
      chi: bChi, a: bA, a1l: bA1L,
      chiFit: bChiFit, chiU: bChiUpper, chiL: bChiLower,
      a1lFit: bA1LFit, a1lU: bA1LUpper, a1lL: bA1LLower,
      aFit: bAFit, aU: bAUpper, aL: bALower,
      cfg: cfgB,
    }));
    return () => {
      ca.destroy();
      cb.destroy();
    };
  }, []);
  const cs: React.CSSProperties = { position: 'absolute', left: 0, top: 0, width: W, height: H };
  return (
    <div style={{ position: 'absolute', left: 0, top: 0, width: W, height: H, background: '#fff', overflow: 'hidden' }}>
      <canvas ref={refA} width={W} height={H} style={cs} />
      <canvas ref={refB} width={W} height={H} style={cs} />
    </div>
  );
}
